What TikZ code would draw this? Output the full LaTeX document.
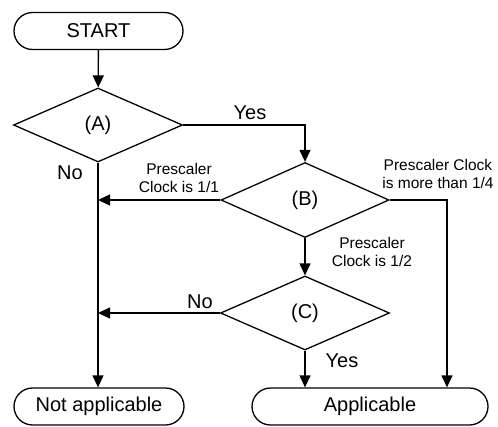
\documentclass[tikz,border=0pt]{standalone}
\usepackage{fontspec}
\setmainfont{Liberation Sans}
\usetikzlibrary{shapes.geometric,arrows.meta}
\begin{document}
\begin{tikzpicture}[x=1pt,y=-1pt,
  line width=1.3pt,
  term/.style={draw,rectangle,rounded corners=18.5pt,minimum height=37pt,inner sep=0pt,font=\fontsize{20}{22}\selectfont},
  dec/.style={draw,diamond,inner sep=0pt,font=\fontsize{20}{22}\selectfont},
  arr/.style={-{Triangle[length=12pt,width=11pt]}},
  big/.style={font=\fontsize{20}{22}\selectfont,inner sep=0pt},
  small/.style={font=\fontsize{15.5}{18.5}\selectfont,align=center,inner sep=0pt}]
\useasboundingbox (0,0) rectangle (498,426);
\node[term,minimum width=169pt] (start) at (98.5,31) {START};
\node[dec,minimum width=169pt,minimum height=74pt] (A) at (98,125) {(A)};
\node[dec,minimum width=168pt,minimum height=75pt] (B) at (305,200) {(B)};
\node[dec,minimum width=169pt,minimum height=74pt] (C) at (305,313) {(C)};
\node[term,minimum width=170pt] (na) at (99,406.5) {Not applicable};
\node[term,minimum width=236pt] (ap) at (370,406.5) {Applicable};
\coordinate (r) at (447,200);
\node[big] (yesA) at (250,113) {Yes};
\node[big] (noA) at (70,173) {No};
\node[big] (noC) at (200,302) {No};
\node[big] (yesC) at (342,361) {Yes};
\node[small] (l11) at (179,178) {Prescaler\\Clock is 1/1};
\node[small] (l14) at (438,174) {Prescaler Clock\\is more than 1/4};
\node[small] (l12) at (372,252) {Prescaler\\Clock is 1/2};
\draw[arr] (start) -- (A);
\draw[arr] (A.east) -| (B.north);
\draw[arr] (A.south) -- (A.south |- na.north);
\draw[arr] (B.west) -- (B.west -| A.south);
\draw[arr] (C.west) -- (C.west -| A.south);
\draw[arr] (B.south) -- (C.north);
\draw[arr] (C.south) -- (C.south |- ap.north);
\draw[arr] (B.east) -- (r) -- (r |- ap.north);
\end{tikzpicture}
\end{document}
